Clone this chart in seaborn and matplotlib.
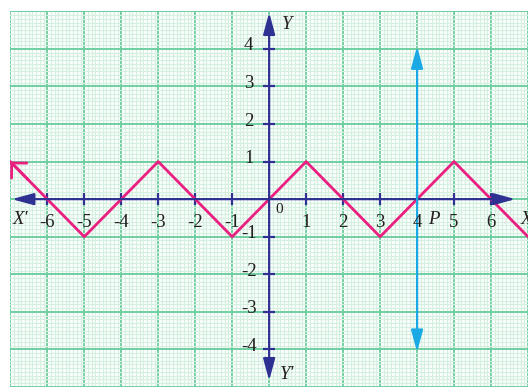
import numpy as np
import matplotlib
matplotlib.use('Agg')
import matplotlib.pyplot as plt
import seaborn as sns

# zigzag corner points (x, y)
zig_x = [-7, -5, -3, -1, 1, 3, 5, 7]
zig_y = [1, -1, 1, -1, 1, -1, 1, -1]

# vertical line x = 4
vline_x = [4, 4]
vline_y = [-4, 4]

x_ticks = [-6, -5, -4, -3, -2, -1, 1, 2, 3, 4, 5, 6]
y_ticks = [-4, -3, -2, -1, 1, 2, 3, 4]

PINK = '#ea1f7f'
CYAN = '#1ba9e6'
NAVY = '#2e3192'
MAJOR = '#6fcfa0'
MINOR = '#d5f0e1'

sns.set_style('white')
plt.rcParams['font.family'] = ['Liberation Serif', 'DejaVu Serif']

fig = plt.figure(figsize=(5.28, 3.87), dpi=100)
ax = fig.add_axes([10.3 / 528, 0, 1 - 10.3 / 528, (387 - 11.3) / 387])
ax.set_xlim(-7, 6.74)
ax.set_ylim(-4.96, 5.0)

# graph paper
ax.set_xticks(np.arange(-7, 8, 1))
ax.set_yticks(np.arange(-5, 6, 1))
ax.set_xticks(np.arange(-7, 7, 0.1), minor=True)
ax.set_yticks(np.arange(-5, 5.01, 0.1), minor=True)
ax.grid(which='minor', color=MINOR, lw=0.9)
ax.grid(which='major', color=MAJOR, lw=1.4)
ax.set_axisbelow(True)
ax.tick_params(which='both', length=0, labelbottom=False, labelleft=False)
for s in ax.spines.values():
    s.set_visible(False)

head = '<|-|>,head_length=1.1,head_width=0.3'

# coordinate axes
ax.annotate('', xy=(6.66, 0), xytext=(-6.96, 0),
            arrowprops=dict(arrowstyle=head, color=NAVY, lw=1.6,
                            shrinkA=0, shrinkB=0, mutation_scale=12))
ax.annotate('', xy=(0, 4.97), xytext=(0, -4.83),
            arrowprops=dict(arrowstyle=head, color=NAVY, lw=1.6,
                            shrinkA=0, shrinkB=0, mutation_scale=12))
ax.plot(x_ticks, [0] * len(x_ticks), ls='none', marker='|', ms=9, mew=1.6, color=NAVY)
ax.plot([0] * len(y_ticks), y_ticks, ls='none', marker='_', ms=9, mew=1.6, color=NAVY)

# zigzag
sns.lineplot(x=zig_x, y=zig_y, ax=ax, color=PINK, lw=2.0, sort=False)
ax.annotate('', xy=(-7, 1), xytext=(-6.5, 0.5),
            arrowprops=dict(arrowstyle='->,head_length=0.55,head_width=0.55',
                            color=PINK, lw=2.0, shrinkA=0, shrinkB=0, mutation_scale=14))

# vertical line
sns.lineplot(x=vline_x, y=vline_y, ax=ax, color=CYAN, lw=1.6, sort=False)
ax.annotate('', xy=(4, 4.07), xytext=(4, -4.07),
            arrowprops=dict(arrowstyle=head, color=CYAN, lw=1.6,
                            shrinkA=0, shrinkB=0, mutation_scale=12))

fs = 13.5
tc = '#231f20'
for t in x_ticks:
    ax.text(t, -0.62, str(t), ha='center', va='center', fontsize=fs, color=tc)
for t in y_ticks:
    ax.text(-0.55, t + 0.08, str(t), ha='center', va='center', fontsize=fs, color=tc)
ax.text(0.27, -0.27, '0', ha='center', va='center', fontsize=11, color=tc)
ax.text(-6.74, -0.55, "X'", ha='center', va='center', fontsize=fs, color=tc, style='italic')
ax.text(6.95, -0.55, 'X', ha='center', va='center', fontsize=fs, color=tc, style='italic')
ax.text(0.48, 4.66, 'Y', ha='center', va='center', fontsize=fs, color=tc, style='italic')
ax.text(0.48, -4.66, "Y'", ha='center', va='center', fontsize=fs, color=tc, style='italic')
ax.text(4.46, -0.55, 'P', ha='center', va='center', fontsize=fs, color=tc, style='italic')

fig.savefig('out.png', dpi=100)
